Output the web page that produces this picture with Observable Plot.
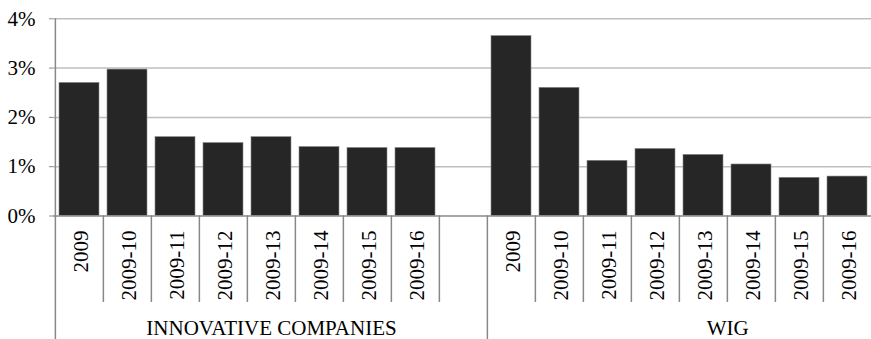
<!DOCTYPE html>
<html><head><meta charset="utf-8">
<script src="https://cdn.jsdelivr.net/npm/d3@7"></script>
<script src="https://cdn.jsdelivr.net/npm/@observablehq/plot@0.6"></script>
<style>html,body{margin:0;padding:0;background:#fff;overflow:hidden}</style>
</head><body><div id="chart"></div>
<script>
const categories = ["2009","2009-10","2009-11","2009-12","2009-13","2009-14","2009-15","2009-16"];
const groups = ["INNOVATIVE COMPANIES","WIG"];
const innovativeValues = [2.70, 2.97, 1.60, 1.48, 1.60, 1.40, 1.38, 1.38];
const wigValues = [3.65, 2.60, 1.12, 1.36, 1.24, 1.045, 0.775, 0.80];
const yTicks = [0,1,2,3,4];

const W = 871, H = 339, mL = 53, mR = -2.25, mT = 18.3, mB = 123.5;
const rows = [];
categories.forEach((c,i)=>rows.push({group:groups[0], cat:c, key:groups[0]+"|"+c, value:innovativeValues[i]}));
categories.forEach((c,i)=>rows.push({group:groups[1], cat:c, key:groups[1]+"|"+c, value:wigValues[i]}));
const gapKey = groups[0]+"|";
const domain = [...rows.slice(0,8).map(d=>d.key), gapKey, ...rows.slice(8).map(d=>d.key)];
const step = (W - mL - mR) / domain.length;
const plotH = H - mT - mB;
const minorKeys = domain.filter((k,i)=> i>0 && i!==9);
const font = "Liberation Serif";

const chart = Plot.plot({
  width: W, height: H,
  marginLeft: mL, marginRight: mR, marginTop: mT, marginBottom: mB,
  style: {fontFamily: font, fontSize: "21px", background: "#fff", color: "#000", overflow: "hidden"},
  x: {type: "band", domain, paddingInner: 0.16, paddingOuter: 0.08, axis: null},
  y: {domain: [0,4], axis: null},
  marks: [
    Plot.ruleY(yTicks.filter(d=>d>0), {stroke: "#bfbfbf", strokeWidth: 1.5}),
    Plot.barY(rows, {x: "key", y: "value", fill: "#262626", stroke: "#8a8a8a", strokeWidth: 0.6}),
    Plot.ruleY([0], {stroke: "#888", strokeWidth: 1.5}),
    Plot.axisY({ticks: yTicks, tickFormat: d => d + "%", tickSize: 4, tickPadding: 14, stroke: "#888", fill: "#000", fontSize: 21, fontFamily: font, fontVariant: "normal", label: null}),
    Plot.ruleX([domain[0]], {x: d=>d, dx: -step/2, stroke: "#888", strokeWidth: 1.5, insetBottom: -mB}),
    Plot.ruleX([domain[9]], {x: d=>d, dx: -step/2, stroke: "#888", strokeWidth: 1.5, insetTop: plotH, insetBottom: -mB}),
    Plot.ruleX(minorKeys, {x: d=>d, dx: -step/2, stroke: "#888", strokeWidth: 1.5, insetTop: plotH, insetBottom: -86.5}),
    Plot.text(rows, {x: "key", text: "cat", frameAnchor: "bottom", dy: 14.5, dx: 1.5, rotate: -90, textAnchor: "end", lineAnchor: "middle", fontSize: 21, fontFamily: font, fill: "#000"}),
    Plot.text([groups[0]], {x: () => domain[4], text: d=>d, frameAnchor: "bottom", dy: 112, lineAnchor: "middle", fontSize: 21, fontFamily: font, fill: "#000"}),
    Plot.text([groups[1]], {x: () => domain[13], text: d=>d, frameAnchor: "bottom", dy: 112, dx: step/2, lineAnchor: "middle", fontSize: 21, fontFamily: font, fill: "#000"})
  ]
});
d3.select(chart).attr("font-family", font).attr("font-size", 21)
  .selectAll("text").attr("font-family", font).style("font-family", font).style("font-size", "21px");
document.getElementById("chart").appendChild(chart);
</script>
</body></html>
